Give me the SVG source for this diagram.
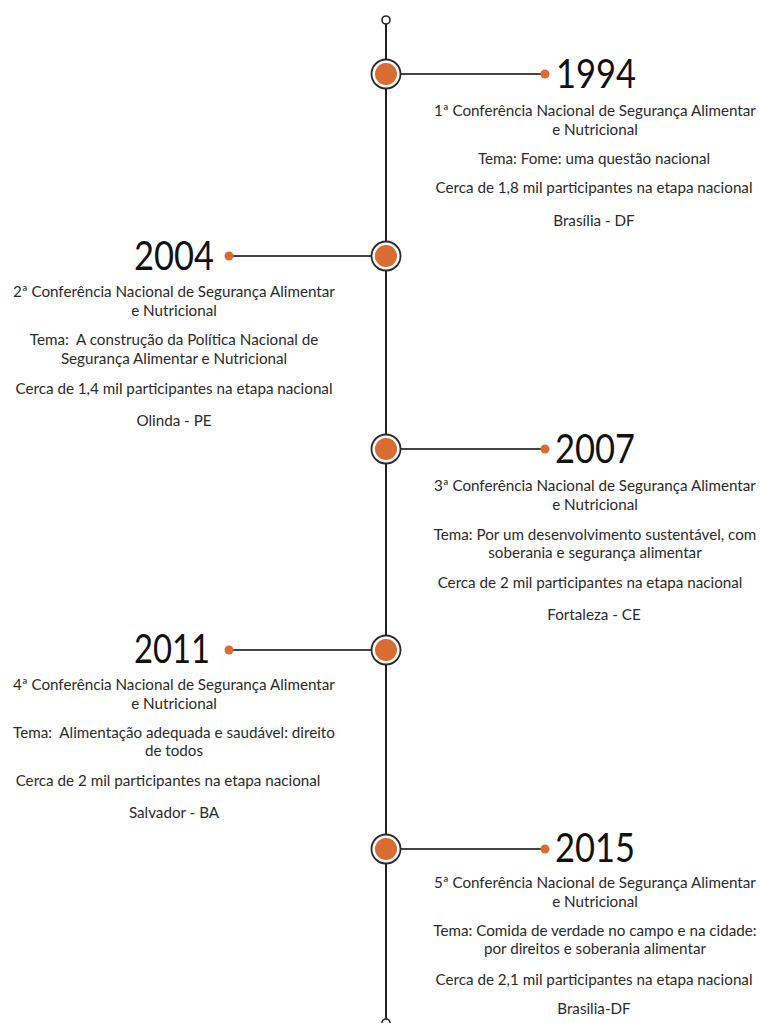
<svg xmlns="http://www.w3.org/2000/svg" width="760" height="1023" viewBox="0 0 760 1023">
<style>
.spine{stroke:#222;stroke-width:2;fill:none}
.arm{stroke:#444;stroke-width:2;fill:none}
.ring{fill:#fff;stroke:#2a2a2a;stroke-width:1.8}
.core{fill:#D86C33}
.dot{fill:#D86C33}
.end{fill:#fff;stroke:#222;stroke-width:1.6}
.year{font-family:"Lato","Liberation Sans",sans-serif;font-size:40px;fill:#111}
.t{font-family:"Lato","Liberation Sans",sans-serif;font-size:15.2px;fill:#2a2a2a;text-anchor:middle}
</style>
<g id="connectors">
<line class="spine" x1="386" y1="24" x2="386" y2="1019"/>
<circle class="end" cx="386" cy="20" r="4"/>
<circle class="end" cx="386" cy="1023" r="4"/>
<line class="arm" x1="400" y1="74" x2="545" y2="74"/>
<line class="arm" x1="229" y1="256" x2="372" y2="256"/>
<line class="arm" x1="400" y1="449" x2="545" y2="449"/>
<line class="arm" x1="229" y1="650" x2="372" y2="650"/>
<line class="arm" x1="400" y1="849" x2="545" y2="849"/>
</g>
<g id="n1994">
<circle class="ring" cx="386" cy="74" r="14.5"/><circle class="core" cx="386" cy="74" r="11"/>
<circle class="dot" cx="545" cy="74" r="4.5"/>
<text class="year" x="556" y="88" textLength="80" lengthAdjust="spacingAndGlyphs">1994</text>
<text class="t" x="595" y="116">1ª Conferência Nacional de Segurança Alimentar</text>
<text class="t" x="595" y="135">e Nutricional</text>
<text class="t" x="594" y="164">Tema: Fome: uma questão nacional</text>
<text class="t" x="594" y="193">Cerca de 1,8 mil participantes na etapa nacional</text>
<text class="t" x="594" y="226">Brasília - DF</text>
</g>
<g id="n2004">
<circle class="ring" cx="386" cy="256" r="14.5"/><circle class="core" cx="386" cy="256" r="11"/>
<circle class="dot" cx="229" cy="256" r="4.5"/>
<text class="year" x="134" y="270" textLength="80" lengthAdjust="spacingAndGlyphs">2004</text>
<text class="t" x="174" y="297">2ª Conferência Nacional de Segurança Alimentar</text>
<text class="t" x="174" y="316">e Nutricional</text>
<text class="t" x="174" y="345">Tema:&#160; A construção da Política Nacional de</text>
<text class="t" x="174" y="364">Segurança Alimentar e Nutricional</text>
<text class="t" x="174" y="394">Cerca de 1,4 mil participantes na etapa nacional</text>
<text class="t" x="174" y="426">Olinda - PE</text>
</g>
<g id="n2007">
<circle class="ring" cx="386" cy="449" r="14.5"/><circle class="core" cx="386" cy="449" r="11"/>
<circle class="dot" cx="545" cy="449" r="4.5"/>
<text class="year" x="555" y="463" textLength="80" lengthAdjust="spacingAndGlyphs">2007</text>
<text class="t" x="595" y="491">3ª Conferência Nacional de Segurança Alimentar</text>
<text class="t" x="595" y="510">e Nutricional</text>
<text class="t" x="595" y="540">Tema: Por um desenvolvimento sustentável, com</text>
<text class="t" x="595" y="558">soberania e segurança alimentar</text>
<text class="t" x="590" y="588">Cerca de 2 mil participantes na etapa nacional</text>
<text class="t" x="594" y="620">Fortaleza - CE</text>
</g>
<g id="n2011">
<circle class="ring" cx="386" cy="650" r="14.5"/><circle class="core" cx="386" cy="650" r="11"/>
<circle class="dot" cx="229" cy="650" r="4.5"/>
<text class="year" x="134" y="663" textLength="76" lengthAdjust="spacingAndGlyphs">2011</text>
<text class="t" x="174" y="690">4ª Conferência Nacional de Segurança Alimentar</text>
<text class="t" x="174" y="709">e Nutricional</text>
<text class="t" x="174" y="738">Tema:&#160; Alimentação adequada e saudável: direito</text>
<text class="t" x="174" y="756">de todos</text>
<text class="t" x="168" y="786">Cerca de 2 mil participantes na etapa nacional</text>
<text class="t" x="174" y="818">Salvador - BA</text>
</g>
<g id="n2015">
<circle class="ring" cx="386" cy="849" r="14.5"/><circle class="core" cx="386" cy="849" r="11"/>
<circle class="dot" cx="545" cy="849" r="4.5"/>
<text class="year" x="555" y="862" textLength="80" lengthAdjust="spacingAndGlyphs">2015</text>
<text class="t" x="595" y="888">5ª Conferência Nacional de Segurança Alimentar</text>
<text class="t" x="595" y="907">e Nutricional</text>
<text class="t" x="595" y="936">Tema: Comida de verdade no campo e na cidade:</text>
<text class="t" x="595" y="954">por direitos e soberania alimentar</text>
<text class="t" x="594" y="985">Cerca de 2,1 mil participantes na etapa nacional</text>
<text class="t" x="594" y="1014">Brasilia-DF</text>
</g>
</svg>
